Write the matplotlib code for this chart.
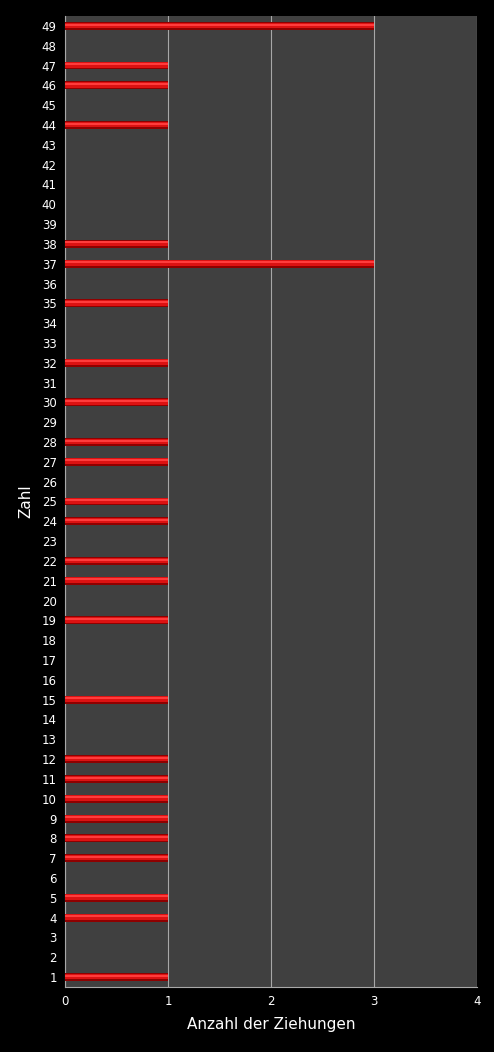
import matplotlib
matplotlib.use('Agg')
import matplotlib.pyplot as plt
import numpy as np

zahlen = list(range(1, 50))
drawn = {1: 1, 4: 1, 5: 1, 7: 1, 8: 1, 9: 1, 10: 1, 11: 1, 12: 1, 15: 1,
         19: 1, 21: 1, 22: 1, 24: 1, 25: 1, 27: 1, 28: 1, 30: 1, 32: 1,
         35: 1, 37: 3, 38: 1, 44: 1, 46: 1, 47: 1, 49: 3}
anzahl = [drawn.get(z, 0) for z in zahlen]

fig = plt.figure(figsize=(4.94, 10.52), dpi=100, facecolor='black')
ax = fig.add_axes([0.1316, 0.0618, 0.834, 0.923])
ax.set_facecolor('#404040')

# fake 3D look: dark outer bar, brighter core, highlight stripe
y = np.array(zahlen)
ax.barh(y, anzahl, height=0.40, color='#8e0000', zorder=3)
ax.barh(y + 0.03, anzahl, height=0.28, color='#dc1212', zorder=4)
ax.barh(y + 0.07, anzahl, height=0.10, color='#ff3c3c', zorder=5)

ax.set_xlim(0, 4)
ax.set_ylim(0.5, 49.5)
ax.set_xticks([0, 1, 2, 3, 4])
ax.set_yticks(zahlen)
ax.xaxis.grid(True, color='#a8a8a8', linewidth=0.8, zorder=1)
ax.set_axisbelow(True)
for s in ['top', 'right']:
    ax.spines[s].set_visible(False)
for s in ['left', 'bottom']:
    ax.spines[s].set_color('#a8a8a8')
ax.tick_params(colors='white', labelsize=8.5, length=0, pad=6)
ax.set_xlabel('Anzahl der Ziehungen', color='white', fontsize=11, labelpad=6)
ax.set_ylabel('Zahl', color='white', fontsize=11, labelpad=6)

fig.savefig('out.png', dpi=100, facecolor='black')
